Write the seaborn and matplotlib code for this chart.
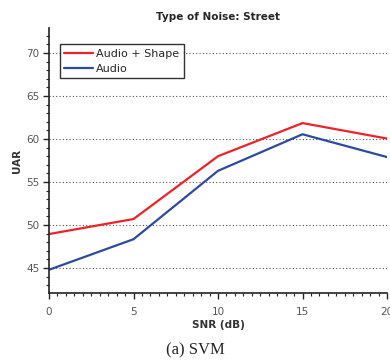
import matplotlib
matplotlib.use("Agg")
import matplotlib.pyplot as plt
import pandas as pd
import seaborn as sns
from matplotlib.ticker import MultipleLocator

# Valores (UAR por SNR)
snr = [0, 5, 10, 15, 20]
uar_audio_shape = [48.95, 50.7, 58.0, 61.85, 60.05]
uar_audio = [44.8, 48.35, 56.3, 60.55, 57.9]
series_names = ["Audio + Shape", "Audio"]
colors = ["#ee2229", "#2e4a9e"]

df = pd.DataFrame({
    "SNR": snr * 2,
    "UAR": uar_audio_shape + uar_audio,
    "Modelo": [series_names[0]] * len(snr) + [series_names[1]] * len(snr),
})

sns.set_style("ticks")
plt.rcParams["font.family"] = ["DejaVu Sans"]

fig = plt.figure(figsize=(3.9, 3.62), dpi=100)
ax = fig.add_axes([49 / 390, 1 - 293 / 362, 338 / 390, 265 / 362])

sns.lineplot(data=df, x="SNR", y="UAR", hue="Modelo", palette=colors,
             linewidth=1.6, ax=ax, legend=True)

ax.set_xlim(0, 20)
ax.set_ylim(42.1, 72.9)
ax.xaxis.set_major_locator(MultipleLocator(5))
ax.xaxis.set_minor_locator(MultipleLocator(0.5))
ax.yaxis.set_major_locator(MultipleLocator(5))
ax.yaxis.set_minor_locator(MultipleLocator(1))
ax.yaxis.grid(True, which="major", linestyle=(0, (1, 2)), color="#555555", linewidth=0.8)
ax.tick_params(which="major", length=4, width=1, labelsize=7.5, labelcolor="#555555")
ax.tick_params(axis="x", which="major", pad=6)
ax.tick_params(axis="y", which="major", pad=3)
ax.tick_params(which="minor", length=2.5, width=0.8)
for side in ["top", "right"]:
    ax.spines[side].set_visible(False)
for side in ["left", "bottom"]:
    ax.spines[side].set_linewidth(1.2)
    ax.spines[side].set_color("#222222")

ax.set_title("Type of Noise: Street", fontsize=7.5, fontweight="bold", pad=6)
ax.set_xlabel("SNR (dB)", fontsize=7.5, fontweight="bold", color="#333333", labelpad=2)
ax.set_ylabel("UAR", fontsize=7.5, fontweight="bold", color="#333333", labelpad=3)

leg = ax.legend(loc="upper left", bbox_to_anchor=(0.015, 0.96), frameon=True,
                fancybox=False, edgecolor="black", fontsize=8,
                handlelength=2.6, handletextpad=0.3, borderpad=0.4, labelspacing=0.45)
leg.get_frame().set_linewidth(1.0)

fig.text(0.5, 1 - 350 / 362, "(a) SVM", ha="center", va="center",
         fontsize=12, family=["Liberation Serif"])

fig.savefig("out.png", dpi=100)
plt.close(fig)
